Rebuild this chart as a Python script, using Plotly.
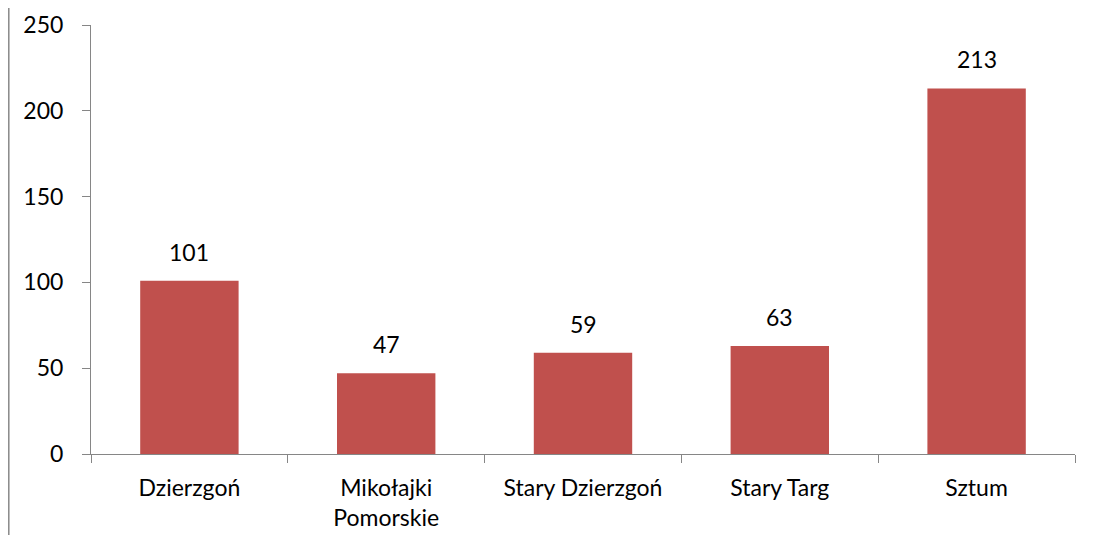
import plotly.graph_objects as go

categories = ["Dzierzgoń", "Mikołajki<br>Pomorskie", "Stary Dzierzgoń", "Stary Targ", "Sztum"]
values = [101, 47, 59, 63, 213]

FONT = "Lato"
FS = 23
fig = go.Figure(go.Bar(
    x=categories, y=values,
    marker=dict(color="#C0504D", line=dict(width=0)),
    width=0.5,
))

for c, v in zip(categories, values):
    fig.add_annotation(x=c, y=v, text=str(v), showarrow=False,
                       yanchor="bottom", yshift=13,
                       font=dict(family=FONT, size=FS, color="black"))

# page body has an 8px margin, so the figure is drawn at (8, 8)
fig.update_layout(
    width=1081, height=527,
    margin=dict(l=83, r=14, t=17, b=81),
    paper_bgcolor="white", plot_bgcolor="white",
    font=dict(family=FONT, size=FS, color="black"),
    showlegend=False,
    xaxis=dict(
        automargin=False,
        showline=True, linecolor="#868686", linewidth=1,
        ticks="outside", tickson="boundaries", ticklen=8, tickcolor="#868686",
        showgrid=False, tickfont=dict(family=FONT, size=FS), ticklabelstandoff=13,
    ),
    yaxis=dict(
        automargin=False,
        range=[0, 250], dtick=50, showline=True, linecolor="#868686", linewidth=1,
        ticks="outside", ticklen=8, tickcolor="#868686", showgrid=False,
        zeroline=False, tickfont=dict(family=FONT, size=FS), ticklabelstandoff=14,
    ),
    shapes=[dict(type="line", xref="paper", yref="paper",
                 x0=(0.8 - 83) / 984, x1=(0.8 - 83) / 984, y0=-0.3, y1=1.1,
                 line=dict(color="#888888", width=1.5))],
)

fig.write_html("out.html")
